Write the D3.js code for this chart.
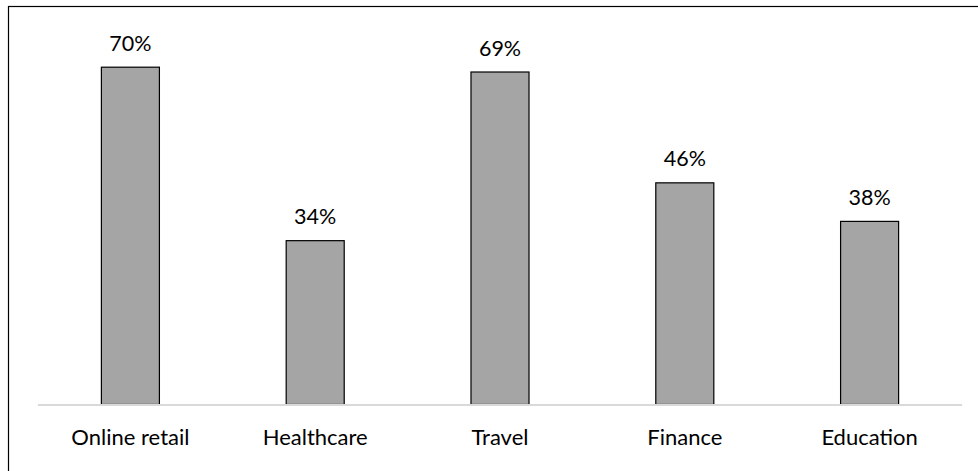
<!DOCTYPE html>
<html>
<head>
<meta charset="utf-8">
<script src="https://cdn.jsdelivr.net/npm/d3@7"></script>
<style>
  html, body { margin: 0; padding: 0; background: #fff; }
  svg { display: block; }
  text { font-family: Lato, "Open Sans", "Liberation Sans", sans-serif; fill: #000; }
</style>
</head>
<body>
<svg id="chart" width="978" height="471"></svg>
<script>
// Share of respondents per sector
const categories = ["Online retail", "Healthcare", "Travel", "Finance", "Education"];
const values = [70, 34, 69, 46, 38];
const valueLabels = ["70%", "34%", "69%", "46%", "38%"];

const svg = d3.select("#chart");

// Outer frame (runs past the right and bottom edges)
svg.append("rect")
  .attr("x", 8.5).attr("y", 6.5)
  .attr("width", 1100).attr("height", 600)
  .attr("fill", "none").attr("stroke", "#000").attr("stroke-width", 1.2);

const x = d3.scaleBand()
  .domain(categories)
  .range([38, 962])
  .paddingInner(0.686)
  .paddingOuter(0.343);

const y = d3.scaleLinear().domain([0, 80]).range([404.5, 19]);

// Bars
svg.append("g").selectAll("rect")
  .data(values)
  .join("rect")
  .attr("x", (d, i) => x(categories[i]))
  .attr("y", d => y(d))
  .attr("width", x.bandwidth())
  .attr("height", d => y(0) - y(d))
  .attr("fill", "#a5a5a5")
  .attr("stroke", "#000")
  .attr("stroke-width", 1.2);

// Baseline
svg.append("line")
  .attr("x1", 38).attr("x2", 962)
  .attr("y1", 405).attr("y2", 405)
  .attr("stroke", "#d9d9d9").attr("stroke-width", 2);

// Value labels
svg.append("g").selectAll("text")
  .data(values)
  .join("text")
  .attr("x", (d, i) => x(categories[i]) + x.bandwidth() / 2)
  .attr("y", d => y(d) - 16.5)
  .attr("text-anchor", "middle")
  .attr("font-size", 21.5)
  .text((d, i) => valueLabels[i]);

// Category labels
const xAxis = d3.axisBottom(x).tickSize(0).tickPadding(0);
const gx = svg.append("g").attr("transform", "translate(0,405)").call(xAxis);
gx.select(".domain").remove();
gx.selectAll("text")
  .attr("y", 40)
  .attr("dy", null)
  .attr("font-size", 22)
  .style("font-family", "Lato, 'Open Sans', sans-serif")
  .attr("fill", "#000");
</script>
</body>
</html>
